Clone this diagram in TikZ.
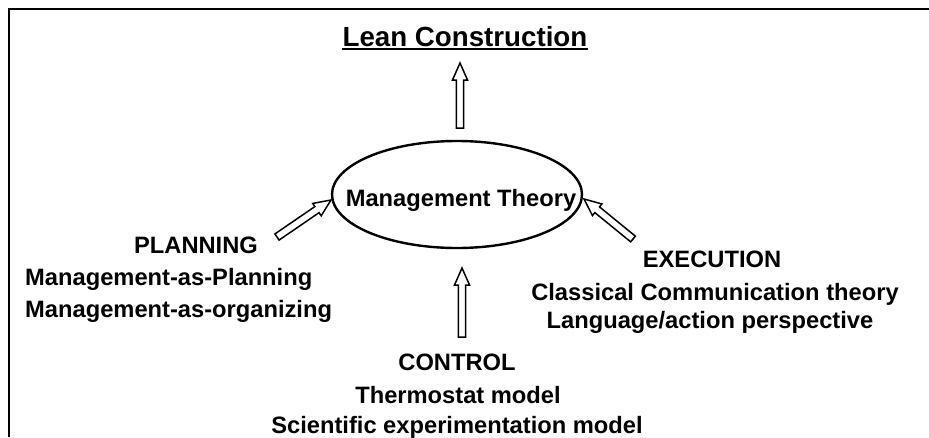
\documentclass[tikz,border=0pt]{standalone}
\usepackage{fontspec}
\setmainfont{Liberation Sans}
\usetikzlibrary{calc,shapes.geometric}

\tikzset{
  txt/.style={inner sep=0pt, anchor=base, font=\bfseries\fontsize{23.7}{28}\selectfont},
  txtl/.style={txt, anchor=base west},
  frameline/.style={line width=1.8pt},
  % hollow block arrow drawn as an outlined polygon from tail to tip
  hollow arrow/.style={draw=black, line width=1.5pt, fill=white, line join=miter,
    to path={
      let \p1=($(\tikztotarget)-(\tikztostart)$),
          \n1={atan2(\y1,\x1)},
          \n2={veclen(\x1,\y1)-17}
      in ($(\tikztostart)+(\n1+90:3.7pt)$)
      -- ($(\tikztostart)+(\n1:\n2)+(\n1+90:3.7pt)$)
      -- ($(\tikztostart)+(\n1:\n2)+(\n1+90:7.5pt)$)
      -- (\tikztotarget)
      -- ($(\tikztostart)+(\n1:\n2)+(\n1-90:7.5pt)$)
      -- ($(\tikztostart)+(\n1:\n2)+(\n1-90:3.7pt)$)
      -- ($(\tikztostart)+(\n1-90:3.7pt)$)
      -- cycle
    }}
}

\begin{document}
\begin{tikzpicture}[x=1pt,y=-1pt]
  \useasboundingbox (0,0) rectangle (929,437);

  % open frame: top and left edges
  \coordinate (fr0) at (9,437);
  \coordinate (fr1) at (9,9);
  \coordinate (fr2) at (929,9);
  \draw[frameline] (fr0) -- (fr1) -- (fr2);

  % title
  \node[txt, font=\bfseries\fontsize{27.7}{32}\selectfont] (title) at (465,46) {Lean Construction};
  \draw[line width=1.8pt] ([yshift=-3pt]title.base west) -- ([yshift=-3pt]title.base east);

  % central ellipse
  \node[ellipse, draw, line width=2.4pt, minimum width=250pt, minimum height=107pt, inner sep=0pt] (mt) at (457,194.5) {};
  \node[txt] (mtl) at (461,206) {Management Theory};

  % planning
  \node[txt] (pl) at (196,253) {PLANNING};
  \node[txtl] (pl1) at (25,285) {Management-as-Planning};
  \node[txtl] (pl2) at (25,317) {Management-as-organizing};

  % execution
  \node[txt] (ex) at (712,267) {EXECUTION};
  \node[txt] (ex1) at (715,300) {Classical Communication theory};
  \node[txt] (ex2) at (710,328) {Language/action perspective};

  % control
  \node[txt] (co) at (457,370) {CONTROL};
  \node[txt] (co1) at (458,403) {Thermostat model};
  \node[txt] (co2) at (457,433) {Scientific experimentation model};

  % arrow end points
  \coordinate (upT) at (460,128);
  \coordinate (upH) at (460,63);
  \coordinate (plT) at (277,237);
  \coordinate (plH) at (331,200);
  \coordinate (exT) at (633,239);
  \coordinate (exH) at (584,199);
  \coordinate (coT) at (462,337);
  \coordinate (coH) at (462,268);

  \draw[hollow arrow] (upT) to (upH);
  \draw[hollow arrow] (plT) to (plH);
  \draw[hollow arrow] (exT) to (exH);
  \draw[hollow arrow] (coT) to (coH);
\end{tikzpicture}
\end{document}
